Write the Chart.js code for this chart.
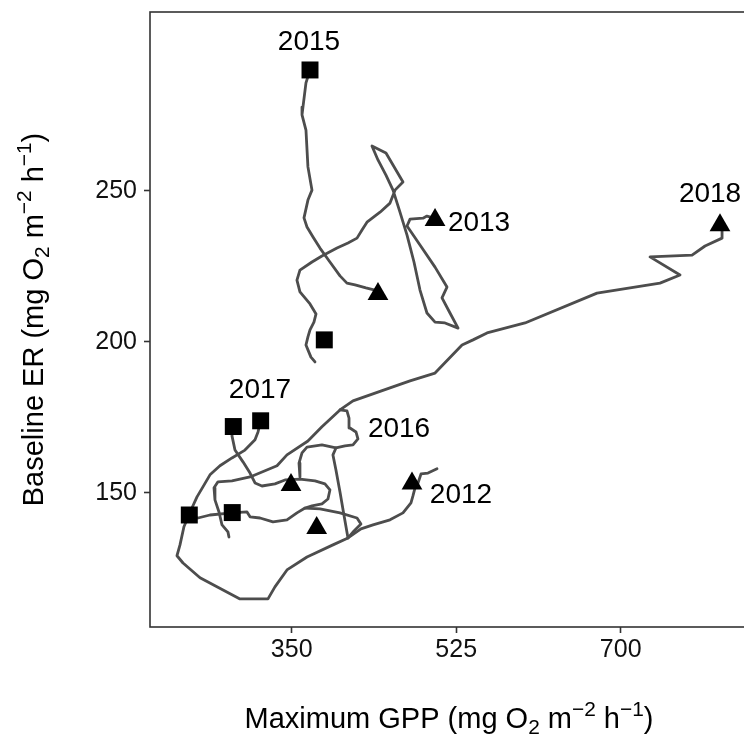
<!DOCTYPE html>
<html>
<head>
<meta charset="utf-8">
<script src="https://cdn.jsdelivr.net/npm/chart.js@4.4.0/dist/chart.umd.min.js"></script>
<style>
  html, body { margin: 0; padding: 0; background: #ffffff; overflow: hidden; }
  #wrap { width: 750px; height: 748px; overflow: hidden; position: relative; }
  canvas { display: block; }
</style>
</head>
<body>
<div id="wrap"><canvas id="chart" width="750" height="748"></canvas></div>
<script>
// Axis ranges and tick values
const xTicks = [350, 525, 700];
const yTicks = [150, 200, 250];
const xRange = [199.3, 835.4];
const yRange = [105.5, 309.2];

// Trajectories (Maximum GPP, Baseline ER)
const track2015_gpp = [369.5,365.2,362.0,361.0,365.2,367.3,371.6,367.3,363.1,366.3,372.7,380.1,390.7,401.4,408.8,417.4,429.0,441.8];
const track2015_er  = [290.0,285.7,277.7,275.1,270.1,257.9,250.2,246.9,241.0,238.0,234.7,231.0,226.4,221.8,219.4,218.8,217.8,216.8];

const track2013_gpp = [374.8,370.5,367.3,365.2,367.3,369.5,373.7,375.9,369.5,358.8,355.6,358.8,371.6,382.2,398.2,409.9,419.5,424.8,430.1,444.0,454.6,459.9,468.4,450.3,435.4,441.8,450.3,457.8,465.2,472.7,480.1,486.5,493.9,502.5,513.1,527.0,518.4,509.9,515.2,502.5,486.5,472.7,475.9,489.7,493.9,501.4];
const track2013_er  = [193.3,194.9,197.3,198.9,201.6,203.9,206.5,209.2,212.5,216.5,220.4,223.7,226.4,228.4,231.0,232.7,234.3,237.0,239.6,242.9,245.9,250.2,252.9,262.5,264.8,260.2,255.2,250.2,242.9,235.3,226.4,217.1,209.5,206.5,206.2,204.5,209.5,214.5,218.1,224.7,232.0,238.3,240.6,240.9,241.6,240.9];

const track2018_gpp = [807.8,807.8,807.8,789.7,775.9,731.2,763.1,741.8,674.8,598.2,557.8,542.9,531.2,502.5,475.9,454.6,415.2,401.4,382.2,367.3,345.0,334.4,305.7,286.5,271.6,267.4,268.4,272.7,275.9,282.2,283.3];
const track2018_er  = [240.0,237.0,234.3,231.7,228.7,228.1,222.1,219.4,216.1,206.2,202.9,200.6,198.9,189.6,187.0,184.7,180.4,177.4,171.8,167.1,162.5,158.9,155.2,153.9,153.6,151.6,147.6,143.6,139.3,137.0,135.3];

const track2017_gpp = [287.6,286.5,289.7,298.2,305.7,311.0,318.4,332.2,342.9,358.8,374.8,385.4,390.7,388.6,382.2,371.6,364.2,355.6,345.0,330.1,316.3,305.7,302.5,286.5,263.1,250.3,240.8];
const track2017_er  = [171.8,168.8,164.1,160.2,156.5,153.2,152.2,152.9,154.2,154.5,153.9,152.9,150.9,147.9,146.3,145.6,144.9,143.3,141.0,140.3,141.6,142.0,143.6,143.3,142.6,141.6,142.6];

const track2012_gpp = [317.4,314.2,311.0,300.3,286.5,273.7,263.1,255.6,249.3,243.9,240.8,235.4,231.2,228.0,234.4,252.5,295.0,324.8,332.2,345.0,366.3,393.9,409.9,423.7,436.5,454.6,468.4,476.9,479.0,481.2,484.4,487.6,495.0,504.6];
const track2012_er  = [174.1,170.1,167.5,164.1,161.5,158.9,155.9,151.9,148.6,144.9,142.6,138.7,132.7,129.1,126.7,121.8,114.8,114.8,118.8,124.4,128.7,132.7,135.0,138.0,139.3,141.0,143.3,146.6,148.9,151.6,153.2,156.2,156.5,157.9];

const track2016_gpp = [409.9,405.6,401.4,397.1,393.9,397.1,406.7,415.2,420.5,418.4,412.0,411.0,408.8,401.4];
const track2016_er  = [135.0,142.6,150.2,157.5,162.5,164.8,165.5,165.8,167.8,170.1,171.4,174.7,177.1,177.4];

const link1_gpp = [397.1,382.2,366.3,361.0,357.8,358.8];
const link1_er  = [164.8,165.8,165.1,163.2,159.8,155.2];

const link2_gpp = [364.2,380.1,401.4,419.5,423.7,416.3,409.9];
const link2_er  = [144.9,144.6,143.3,141.6,139.6,137.3,135.0];

// Square and triangle markers
const squareGpp   = [369.5, 384.7, 287.9, 317.0, 241.1, 286.8];
const squareEr    = [290.0, 200.6, 171.9, 173.8, 142.6, 143.4];
const triangleGpp = [805.6, 502.5, 441.8, 349.3, 376.6, 478.0];
const triangleEr  = [238.6, 240.3, 215.8, 152.5, 138.3, 153.0];

// Year annotations
const yearLabels = ['2015', '2013', '2018', '2017', '2016', '2012'];
const labelGpp   = [368.4, 549.3, 795.0, 316.3, 464.2, 530.1];
const labelEr    = [299.9, 240.1, 249.7, 184.7, 171.8, 150.0];

const FONT = "'Liberation Sans', Arial, Helvetica, sans-serif";
const INK = '#333333';
const PATH = '#4d4d4d';

const toPoints = (xs, ys) => xs.map((x, i) => ({ x: x, y: ys[i] }));

const tracks = [
  [track2015_gpp, track2015_er],
  [track2013_gpp, track2013_er],
  [track2018_gpp, track2018_er],
  [track2017_gpp, track2017_er],
  [track2012_gpp, track2012_er],
  [track2016_gpp, track2016_er],
  [link1_gpp, link1_er],
  [link2_gpp, link2_er]
];

const datasets = [
  {
    data: toPoints(squareGpp, squareEr),
    showLine: false, pointStyle: 'rect', pointRadius: 12, pointHoverRadius: 12,
    backgroundColor: '#000000', borderColor: '#000000', borderWidth: 0
  },
  {
    data: toPoints(triangleGpp, triangleEr),
    showLine: false, pointStyle: 'triangle', pointRadius: 12, pointHoverRadius: 12,
    backgroundColor: '#000000', borderColor: '#000000', borderWidth: 0
  }
].concat(tracks.map(([xs, ys]) => ({
  data: toPoints(xs, ys),
  showLine: true, fill: false, tension: 0,
  borderColor: PATH, borderWidth: 2.8,
  borderJoinStyle: 'round', borderCapStyle: 'round',
  pointRadius: 0, pointHoverRadius: 0
})));

// Text with sub/superscripts, centred on the origin, baseline at y = 0
function drawRich(ctx, parts, size) {
  const small = size * 0.72;
  let total = 0;
  for (const [t, k] of parts) {
    ctx.font = `${k ? small : size}px ${FONT}`;
    total += ctx.measureText(t).width;
  }
  let x = -total / 2;
  ctx.textAlign = 'left';
  ctx.textBaseline = 'alphabetic';
  for (const [t, k] of parts) {
    ctx.font = `${k ? small : size}px ${FONT}`;
    const dy = k === 1 ? -size * 0.42 : (k === -1 ? size * 0.22 : 0);
    ctx.fillText(t, x, dy);
    x += ctx.measureText(t).width;
  }
}

const decorations = {
  id: 'decorations',
  afterDatasetsDraw(chart) {
    const { ctx, chartArea: a, scales } = chart;
    ctx.save();
    // panel border
    ctx.strokeStyle = INK;
    ctx.lineWidth = 1.6;
    ctx.strokeRect(a.left, a.top, a.right - a.left, a.bottom - a.top);
    // year labels
    ctx.fillStyle = '#000000';
    ctx.font = `28px ${FONT}`;
    ctx.textAlign = 'center';
    ctx.textBaseline = 'alphabetic';
    yearLabels.forEach((t, i) => {
      const px = scales.x.getPixelForValue(labelGpp[i]);
      const py = scales.y.getPixelForValue(labelEr[i]);
      ctx.fillText(t, px, py + 28 * 0.358);
    });
    ctx.restore();
  },
  afterDraw(chart) {
    const { ctx, chartArea: a } = chart;
    ctx.save();
    ctx.fillStyle = '#000000';
    // x axis title
    ctx.save();
    ctx.translate((a.left + a.right) / 2, 728);
    drawRich(ctx, [['Maximum GPP (mg O', 0], ['2', -1], [' m', 0], ['\u22122', 1], [' h', 0], ['\u22121', 1], [')', 0]], 29);
    ctx.restore();
    // y axis title
    ctx.save();
    ctx.translate(43, (a.top + a.bottom) / 2);
    ctx.rotate(-Math.PI / 2);
    drawRich(ctx, [['Baseline ER (mg O', 0], ['2', -1], [' m', 0], ['\u22122', 1], [' h', 0], ['\u22121', 1], [')', 0]], 29);
    ctx.restore();
    ctx.restore();
  }
};

new Chart(document.getElementById('chart'), {
  type: 'scatter',
  data: { datasets: datasets },
  options: {
    responsive: false,
    devicePixelRatio: 1,
    animation: false,
    layout: { autoPadding: false, padding: { top: 12, right: 2, bottom: 0, left: 0 } },
    plugins: { legend: { display: false }, tooltip: { enabled: false } },
    scales: {
      x: {
        type: 'linear', min: xRange[0], max: xRange[1],
        afterBuildTicks: s => { s.ticks = xTicks.map(v => ({ value: v })); },
        ticks: { font: { family: FONT, size: 25 }, color: '#111111', padding: 2, autoSkip: false, maxRotation: 0 },
        grid: { drawOnChartArea: false, drawTicks: true, tickLength: 6, tickWidth: 1.6, tickColor: INK, color: INK },
        border: { display: false },
        afterFit: s => { s.height = 121; s.paddingLeft = 0; s.paddingRight = 0; }
      },
      y: {
        type: 'linear', min: yRange[0], max: yRange[1],
        afterBuildTicks: s => { s.ticks = yTicks.map(v => ({ value: v })); },
        ticks: { font: { family: FONT, size: 25 }, color: '#111111', padding: 7, autoSkip: false },
        grid: { drawOnChartArea: false, drawTicks: true, tickLength: 6, tickWidth: 1.6, tickColor: INK, color: INK },
        border: { display: false },
        afterFit: s => { s.width = 150; s.paddingTop = 0; s.paddingBottom = 0; }
      }
    }
  },
  plugins: [decorations]
});
</script>
</body>
</html>
